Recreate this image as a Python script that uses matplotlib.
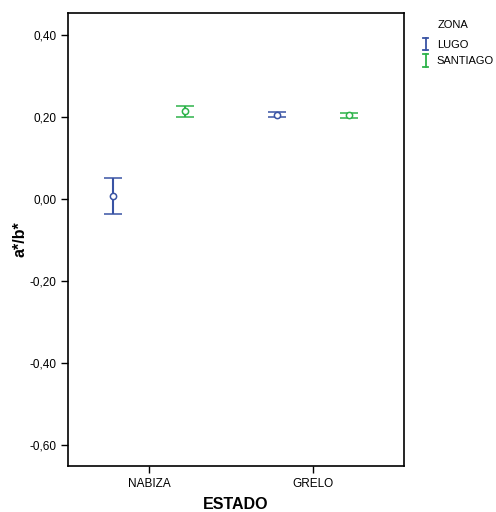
import matplotlib
matplotlib.use("Agg")
import matplotlib.pyplot as plt
from matplotlib.lines import Line2D
from matplotlib.legend_handler import HandlerBase

plt.rcParams['font.family'] = ['Liberation Sans', 'DejaVu Sans']

categories = ["NABIZA", "GRELO"]
zones = ["LUGO", "SANTIAGO"]
means = {"LUGO": [0.007, 0.206], "SANTIAGO": [0.215, 0.205]}
upper = {"LUGO": [0.051, 0.213], "SANTIAGO": [0.228, 0.211]}
lower = {"LUGO": [-0.037, 0.199], "SANTIAGO": [0.200, 0.198]}
colors = {"LUGO": "#3953A4", "SANTIAGO": "#2DB34A"}
yticks = [0.40, 0.20, 0.00, -0.20, -0.40, -0.60]
ytick_labels = ["0,40", "0,20", "0,00", "-0,20", "-0,40", "-0,60"]


class HandlerI(HandlerBase):
    def __init__(self, color):
        super().__init__()
        self.color = color

    def create_artists(self, legend, orig_handle, xdescent, ydescent,
                       width, height, fontsize, trans):
        cx = width / 2 - xdescent
        y0 = -ydescent - 0.3 * height
        y1 = -ydescent + 1.3 * height
        hw = 0.22 * width
        lines = [
            Line2D([cx, cx], [y0, y1], color=self.color, lw=1.3),
            Line2D([cx - hw, cx + hw], [y0, y0], color=self.color, lw=1.3),
            Line2D([cx - hw, cx + hw], [y1, y1], color=self.color, lw=1.3),
        ]
        for l in lines:
            l.set_transform(trans)
        return lines


fig = plt.figure(figsize=(4.96, 5.12), dpi=100)
ax = fig.add_axes([0.137, 0.0898, 0.6775, 0.8848])

offsets = {"LUGO": -0.22, "SANTIAGO": 0.22}
handles = []
for z in zones:
    xs = [i + offsets[z] for i in range(len(categories))]
    m = means[z]
    yerr = [[m[i] - lower[z][i] for i in range(len(m))],
            [upper[z][i] - m[i] for i in range(len(m))]]
    ax.errorbar(xs, m, yerr=yerr, fmt='o', mfc='white', mec=colors[z],
                ms=4.5, mew=1.1, ecolor=colors[z], elinewidth=1.5,
                capsize=6.5, capthick=1.5)
    handles.append(Line2D([], [], color=colors[z]))

ax.set_xlim(-0.494, 1.555)
ax.set_ylim(-0.651, 0.4537)
ax.set_xticks(range(len(categories)))
ax.set_xticklabels(categories, fontsize=8.5)
ax.set_yticks(yticks)
ax.set_yticklabels(ytick_labels, fontsize=8.5)
ax.tick_params(direction='out', length=5, width=1)
for s in ax.spines.values():
    s.set_linewidth(1.2)
ax.set_xlabel("ESTADO", fontsize=11.5, fontweight='bold', labelpad=5)
ax.set_ylabel("a*/b*", fontsize=11.5, fontweight='bold', labelpad=1)

leg = fig.legend(handles=handles, labels=zones, loc='upper left',
                 bbox_to_anchor=(0.828, 0.942), frameon=False, fontsize=8,
                 handlelength=0.9, handletextpad=0.55,
                 labelspacing=0.6,
                 handler_map={handles[0]: HandlerI(colors["LUGO"]),
                              handles[1]: HandlerI(colors["SANTIAGO"])})
fig.text(438 / 496, 1 - 25 / 512, "ZONA", fontsize=8, ha='left', va='center')

fig.savefig("out.png", dpi=100)
